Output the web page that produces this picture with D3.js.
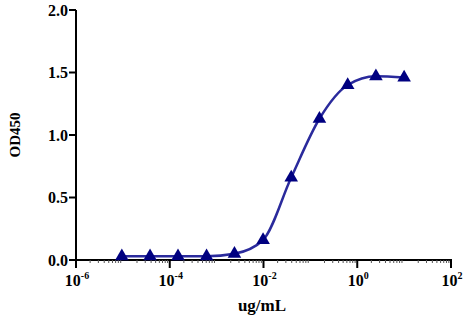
<!DOCTYPE html>
<html>
<head>
<meta charset="utf-8">
<script src="https://cdn.jsdelivr.net/npm/d3@7"></script>
<style>
  body { margin: 0; background: #fff; }
  svg { display: block; }
  text { font-family: "Liberation Serif", "Times New Roman", serif; font-weight: bold; fill: #000; }
</style>
</head>
<body>
<svg width="473" height="326"></svg>
<script>
// concentrations (ug/mL), 1:4 dilution series, and measured OD450
const conc = [0.0000095, 0.000038, 0.00015, 0.00061, 0.0024, 0.0098, 0.039, 0.156, 0.625, 2.5, 10];
const od450 = [0.03, 0.03, 0.03, 0.03, 0.05, 0.16, 0.66, 1.13, 1.40, 1.47, 1.46];
const yTicks = [0, 0.5, 1.0, 1.5, 2.0];
const xExponents = [-6, -4, -2, 0, 2];

const svg = d3.select('svg');
const margin = { left: 76, right: 22, top: 10, bottom: 66 };
const width = 473, height = 326;

const x = d3.scaleLog().domain([1e-6, 1e2]).range([margin.left, width - margin.right]);
const y = d3.scaleLinear().domain([0, 2]).range([height - margin.bottom, margin.top]);

// y axis
const yAxis = svg.append('g').attr('transform', `translate(${margin.left},0)`);
yAxis.append('line')
    .attr('x1', 0).attr('x2', 0)
    .attr('y1', y(0) + 1).attr('y2', y(2))
    .attr('stroke', '#000').attr('stroke-width', 2);
yAxis.selectAll('line.tick')
    .data(yTicks)
    .enter().append('line')
    .attr('class', 'tick')
    .attr('x1', -7).attr('x2', 0)
    .attr('y1', d => y(d)).attr('y2', d => y(d))
    .attr('stroke', '#000').attr('stroke-width', 2);
yAxis.selectAll('text')
    .data(yTicks)
    .enter().append('text')
    .attr('x', -8).attr('y', d => y(d))
    .attr('dy', '0.35em')
    .attr('text-anchor', 'end')
    .style('font-size', '16px')
    .text(d => d.toFixed(1));

// x axis
const xAxis = svg.append('g').attr('transform', `translate(0,${y(0)})`);
xAxis.append('line')
    .attr('x1', margin.left - 7).attr('x2', x(1e2) + 1)
    .attr('y1', 0).attr('y2', 0)
    .attr('stroke', '#000').attr('stroke-width', 2);

// minor ticks (2..9 of each decade)
const minor = [];
for (let e = -6; e < 2; e++) {
    for (let m = 2; m <= 9; m++) minor.push(m * Math.pow(10, e));
}
xAxis.selectAll('line.minor')
    .data(minor)
    .enter().append('line')
    .attr('class', 'minor')
    .attr('x1', d => x(d)).attr('x2', d => x(d))
    .attr('y1', 0).attr('y2', 3)
    .attr('stroke', '#555').attr('stroke-width', 1);

xAxis.selectAll('line.major')
    .data(xExponents)
    .enter().append('line')
    .attr('class', 'major')
    .attr('x1', d => x(Math.pow(10, d))).attr('x2', d => x(Math.pow(10, d)))
    .attr('y1', 0).attr('y2', 8)
    .attr('stroke', '#000').attr('stroke-width', 2);

const xLabels = xAxis.selectAll('text')
    .data(xExponents)
    .enter().append('text')
    .attr('x', d => x(Math.pow(10, d)) + 1)
    .attr('y', 26)
    .attr('text-anchor', 'middle')
    .style('font-size', '16px');
xLabels.append('tspan').text('10');
xLabels.append('tspan')
    .attr('dy', '-7')
    .style('font-size', '10px')
    .text(d => d);

// axis titles
svg.append('text')
    .attr('transform', `translate(20,${(y(0) + y(2)) / 2}) rotate(-90)`)
    .attr('text-anchor', 'middle')
    .style('font-size', '15px')
    .text('OD450');

svg.append('text')
    .attr('x', 262).attr('y', 311)
    .attr('text-anchor', 'middle')
    .style('font-size', '17px')
    .text('ug/mL');

// curve through the points
const points = conc.map((c, i) => [c, od450[i]]);
const line = d3.line()
    .x(d => x(d[0]))
    .y(d => y(d[1]))
    .curve(d3.curveMonotoneX);

svg.append('path')
    .datum(points)
    .attr('d', line)
    .attr('fill', 'none')
    .attr('stroke', '#2a2a9c')
    .attr('stroke-width', 2.5);

// triangle markers
const tri = d3.symbol().type(d3.symbolTriangle).size(80);
svg.selectAll('path.pt')
    .data(points)
    .enter().append('path')
    .attr('class', 'pt')
    .attr('transform', d => `translate(${x(d[0])},${y(d[1])})`)
    .attr('d', tri)
    .attr('fill', '#000080');
</script>
</body>
</html>
